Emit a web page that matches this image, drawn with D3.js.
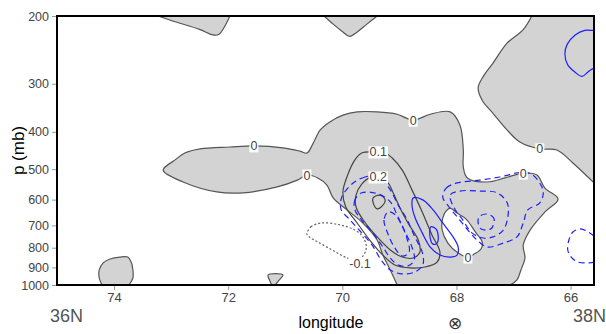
<!DOCTYPE html>
<html>
<head>
<meta charset="utf-8">
<script src="https://cdn.jsdelivr.net/npm/d3@7"></script>
<style>
  body { margin: 0; background: #fff; }
  text { font-family: "Liberation Sans", Arial, sans-serif; }
</style>
</head>
<body>
<div id="container"></div>
<script>
let xTicks = [74, 72, 70, 68, 66];
let yTicks = [200, 300, 400, 500, 600, 700, 800, 900, 1000];

// 0 contour, the shaded side is >= 0
let zeroMain = [[69.04,1000],[69.16,914],[69.29,836],[69.39,764],[69.64,690],[69.92,638],[70.16,594],[70.27,550],[70.43,527],[70.62,518],[70.79,534],[71.14,556],[71.74,576],[72.20,573],[72.79,540],[73.14,503],[72.93,473],[72.76,454],[72.49,443],[71.97,438],[71.55,435],[71.04,440],[70.74,449],[70.62,454],[70.51,428],[70.39,396],[70.22,377],[69.99,362],[69.74,355],[69.39,355],[69.04,360],[68.76,373],[68.46,360],[68.11,355],[67.94,384],[67.88,446],[67.88,494],[67.81,527],[67.46,540],[67.15,527],[66.83,512],[66.59,518],[66.45,560],[66.22,598],[66.45,646],[66.71,720],[66.83,787],[66.80,851],[66.87,914],[66.94,970],[67.06,1000]];
let zeroHole = [[68.11,631],[67.99,650],[67.83,674],[67.67,728],[67.55,773],[67.57,806],[67.69,831],[67.80,846],[67.97,826],[68.15,778],[68.25,720],[68.24,670],[68.18,642]];
let zeroRight = [[66.68,200],[66.83,217],[67.11,235],[67.36,265],[67.53,287],[67.62,307],[67.55,331],[67.36,358],[67.11,396],[66.89,425],[66.54,443],[66.24,446],[65.96,482],[65.59,543]];
let zeroTopA = [[73.23,200],[72.93,207],[72.49,217],[72.27,224],[72.16,223],[72.07,214],[71.97,200]];
let zeroTopB = [[70.32,200],[70.16,210],[69.99,220],[69.87,226],[69.74,220],[69.57,210],[69.39,200]];
let zeroLowA = [[74.21,1000],[74.26,959],[74.26,914],[74.19,876],[74.07,856],[73.90,846],[73.76,846],[73.70,872],[73.67,914],[73.67,959],[73.74,1000]];
let zeroLowB = [[71.30,942],[71.04,942],[71.12,975],[71.18,1000],[71.23,1000],[71.27,975]];

// positive contours inside the shading
let pos01 = [[69.48,451],[69.66,454],[69.78,473],[69.92,524],[69.99,573],[69.94,627],[69.74,690],[69.52,764],[69.29,836],[69.08,887],[68.81,903],[68.55,898],[68.34,872],[68.29,821],[68.43,741],[68.60,646],[68.78,566],[68.95,503],[69.13,467],[69.25,454]];
let pos02 = [[69.52,527],[69.66,547],[69.76,584],[69.76,627],[69.62,682],[69.39,750],[69.16,811],[68.95,846],[68.76,851],[68.64,821],[68.67,764],[68.85,690],[68.99,631],[69.11,576],[69.23,537]];
let pos03 = [[69.46,594],[69.34,584],[69.25,601],[69.32,627],[69.39,634],[69.46,612]];
// negative contour (dotted)
let neg01 = [[70.62,737],[70.55,706],[70.36,690],[70.04,698],[69.78,720],[69.64,750],[69.58,797],[69.64,841],[69.78,861],[69.95,846],[70.18,811],[70.43,773],[70.58,750]];

// blue overlay field
let blueSolidLoops = [
  [[68.76,594],[68.59,601],[68.41,638],[68.24,690],[68.06,750],[67.97,797],[67.99,836],[68.11,846],[68.29,836],[68.46,797],[68.60,732],[68.73,666],[68.78,620]],
  [[68.45,706],[68.36,715],[68.32,746],[68.34,778],[68.41,783],[68.46,755]]
];
let blueSolidOpen = [[65.48,217],[65.59,218],[65.75,218],[65.92,224],[66.06,237],[66.10,251],[66.05,268],[65.92,280],[65.80,287],[65.69,279],[65.59,273],[65.48,270]];
let blueDashedLoops = [
  [[69.43,521],[69.60,524],[69.81,543],[70.01,591],[70.02,638],[69.88,674],[69.69,724],[69.48,787],[69.32,861],[69.16,914],[68.95,936],[68.73,925],[68.59,887],[68.60,821],[68.73,750],[68.87,674],[69.02,620],[69.16,566],[69.30,534]],
  [[69.66,576],[69.78,601],[69.78,638],[69.66,678],[69.48,728],[69.30,792],[69.16,851],[69.02,887],[68.85,892],[68.74,861],[68.78,797],[68.90,728],[69.04,658],[69.16,608],[69.37,580]],
  [[69.20,646],[69.27,678],[69.20,737],[69.08,801],[68.95,841],[68.83,821],[68.87,755],[68.97,694],[69.09,654]],
  [[68.24,591],[68.18,560],[67.99,543],[67.59,534],[67.24,524],[66.83,509],[66.66,518],[66.48,570],[66.54,612],[66.75,638],[66.83,690],[66.94,750],[67.18,778],[67.46,797],[67.64,764],[67.80,720],[67.97,670],[68.13,627]],
  [[68.11,584],[67.94,570],[67.59,570],[67.29,576],[67.11,612],[67.10,666],[67.18,720],[67.36,750],[67.53,755],[67.73,732],[67.90,674],[68.04,631]],
  [[67.48,654],[67.38,662],[67.34,674],[67.38,711],[67.48,720],[67.59,711],[67.62,674],[67.59,662]]
];
let blueDashedOpen = [[65.59,746],[65.69,728],[65.83,715],[65.96,728],[66.03,764],[66.05,811],[65.99,846],[65.87,872],[65.71,876],[65.59,872],[65.48,836]];

// contour labels
let labelText = ["0", "0", "0", "0", "0", "0", "0.1", "0.2", "-0.1"];
let labelLon = [71.55, 70.62, 68.76, 66.54, 66.83, 67.80, 69.37, 69.37, 69.69];
let labelP = [435, 518, 373, 443, 512, 846, 451, 524, 877];

let w = 606;
let h = 334;
let padL = 57, padR = 594, padT = 16, padB = 285;

let viz = d3.select("#container")
  .append("svg")
    .attr("width", w)
    .attr("height", h)
;

let xScale = d3.scaleLinear().domain([75, 65.59]).range([padL, padR]);
let yScale = d3.scaleLog().domain([200, 1000]).range([padT, padB]);

viz.append("clipPath").attr("id", "plotclip")
  .append("rect")
    .attr("x", padL).attr("y", padT)
    .attr("width", padR - padL).attr("height", padB - padT);

let plot = viz.append("g").attr("clip-path", "url(#plotclip)");

let smooth = d3.line()
  .x(function(d){ return xScale(d[0]); })
  .y(function(d){ return yScale(d[1]); })
  .curve(d3.curveCatmullRom.alpha(0.5));
let smoothClosed = d3.line()
  .x(function(d){ return xScale(d[0]); })
  .y(function(d){ return yScale(d[1]); })
  .curve(d3.curveCatmullRomClosed.alpha(0.5));

// open contour + straight edges along the frame
function areaPath(pts, corners){
  let s = smooth(pts);
  corners.forEach(function(c){
    s += "L" + xScale(c[0]) + "," + yScale(c[1]);
  });
  return s + "Z";
}

let gray = "#d3d3d3";
let edge = "#555";

// shaded areas
plot.append("path")
  .attr("d", areaPath(zeroMain, []) + smoothClosed(zeroHole))
  .attr("fill", gray).attr("fill-rule", "evenodd");
plot.append("path").attr("d", areaPath(zeroRight, [[65.59, 200]])).attr("fill", gray);
[zeroTopA, zeroTopB, zeroLowA].forEach(function(pts){
  plot.append("path").attr("d", areaPath(pts, [])).attr("fill", gray);
});
plot.append("path").attr("d", smoothClosed(zeroLowB)).attr("fill", gray);

// 0 lines
[zeroMain, zeroRight, zeroTopA, zeroTopB, zeroLowA].forEach(function(pts){
  plot.append("path").attr("d", smooth(pts))
    .attr("fill", "none").attr("stroke", edge).attr("stroke-width", 1.2);
});
[zeroLowB].forEach(function(pts){
  plot.append("path").attr("d", smoothClosed(pts))
    .attr("fill", "none").attr("stroke", edge).attr("stroke-width", 1.2);
});
plot.append("path").attr("d", smoothClosed(zeroHole)).attr("fill", "#fff").attr("stroke", edge).attr("stroke-width", 1.2);

[pos01, pos02, pos03].forEach(function(pts){
  plot.append("path").attr("d", smoothClosed(pts))
    .attr("fill", "none").attr("stroke", "#444").attr("stroke-width", 1.2);
});
plot.append("path").attr("d", smoothClosed(neg01))
  .attr("fill", "none").attr("stroke", "#666").attr("stroke-width", 1.2)
  .attr("stroke-dasharray", "2,2");

// blue field
let blue = "#1f1fff";
blueSolidLoops.forEach(function(pts){
  plot.append("path").attr("d", smoothClosed(pts))
    .attr("fill", "none").attr("stroke", blue).attr("stroke-width", 1.2);
});
plot.append("path").attr("d", smooth(blueSolidOpen))
  .attr("fill", "none").attr("stroke", blue).attr("stroke-width", 1.2);
blueDashedLoops.forEach(function(pts){
  plot.append("path").attr("d", smoothClosed(pts))
    .attr("fill", "none").attr("stroke", blue).attr("stroke-width", 1.2)
    .attr("stroke-dasharray", "6,4");
});
plot.append("path").attr("d", smooth(blueDashedOpen))
  .attr("fill", "none").attr("stroke", blue).attr("stroke-width", 1.2)
  .attr("stroke-dasharray", "6,4");

// contour labels on white boxes
labelText.forEach(function(t, i){
  let g = plot.append("g")
    .attr("transform", "translate(" + xScale(labelLon[i]) + "," + yScale(labelP[i]) + ")");
  let bg = g.append("rect").attr("fill", "#fff");
  let txt = g.append("text")
    .attr("text-anchor", "middle").attr("dy", "0.36em")
    .attr("font-size", 12.5).attr("fill", "#444")
    .text(t);
  let b = txt.node().getBBox();
  bg.attr("x", b.x - 1).attr("y", b.y + 1).attr("width", b.width + 2).attr("height", b.height - 2);
});

// axes
let xAxis = d3.axisBottom(xScale).tickValues(xTicks).tickSize(5).tickPadding(3);
let xAxisGroup = viz.append("g")
  .attr("transform", "translate(0," + padB + ")")
  .call(xAxis);
let yAxis = d3.axisLeft(yScale).tickValues(yTicks).tickFormat(d3.format("d")).tickSize(5).tickPadding(3);
let yAxisGroup = viz.append("g")
  .attr("transform", "translate(" + padL + ",0)")
  .call(yAxis);
[xAxisGroup, yAxisGroup].forEach(function(g){
  g.select(".domain").remove();
  g.selectAll(".tick line").attr("stroke", "#999");
  g.selectAll(".tick text")
    .attr("fill", "#444")
    .style("font-family", "'Liberation Sans', Arial, sans-serif")
    .style("font-size", "13px");
});
yAxisGroup.selectAll(".tick text").style("font-size", "12.5px");

// frame
viz.append("rect")
  .attr("x", padL).attr("y", padT)
  .attr("width", padR - padL).attr("height", padB - padT)
  .attr("fill", "none").attr("stroke", "#000").attr("stroke-width", 2);

// titles
viz.append("text")
  .attr("transform", "translate(24," + ((padT + padB) / 2) + ") rotate(-90)")
  .attr("text-anchor", "middle")
  .attr("font-size", 17).attr("fill", "#000")
  .text("p (mb)");
viz.append("text")
  .attr("x", 331).attr("y", 328)
  .attr("text-anchor", "middle")
  .attr("font-size", 16).attr("fill", "#000")
  .text("longitude");
viz.append("text")
  .attr("x", 50).attr("y", 322)
  .attr("font-size", 18).attr("fill", "#555")
  .text("36N");
viz.append("text")
  .attr("x", 573).attr("y", 322)
  .attr("font-size", 18).attr("fill", "#555")
  .text("38N");
viz.append("text")
  .attr("x", 455).attr("y", 329)
  .attr("text-anchor", "middle")
  .attr("font-size", 17).attr("fill", "#333")
  .style("font-family", "'DejaVu Sans', sans-serif")
  .text("⊗");
</script>
</body>
</html>
